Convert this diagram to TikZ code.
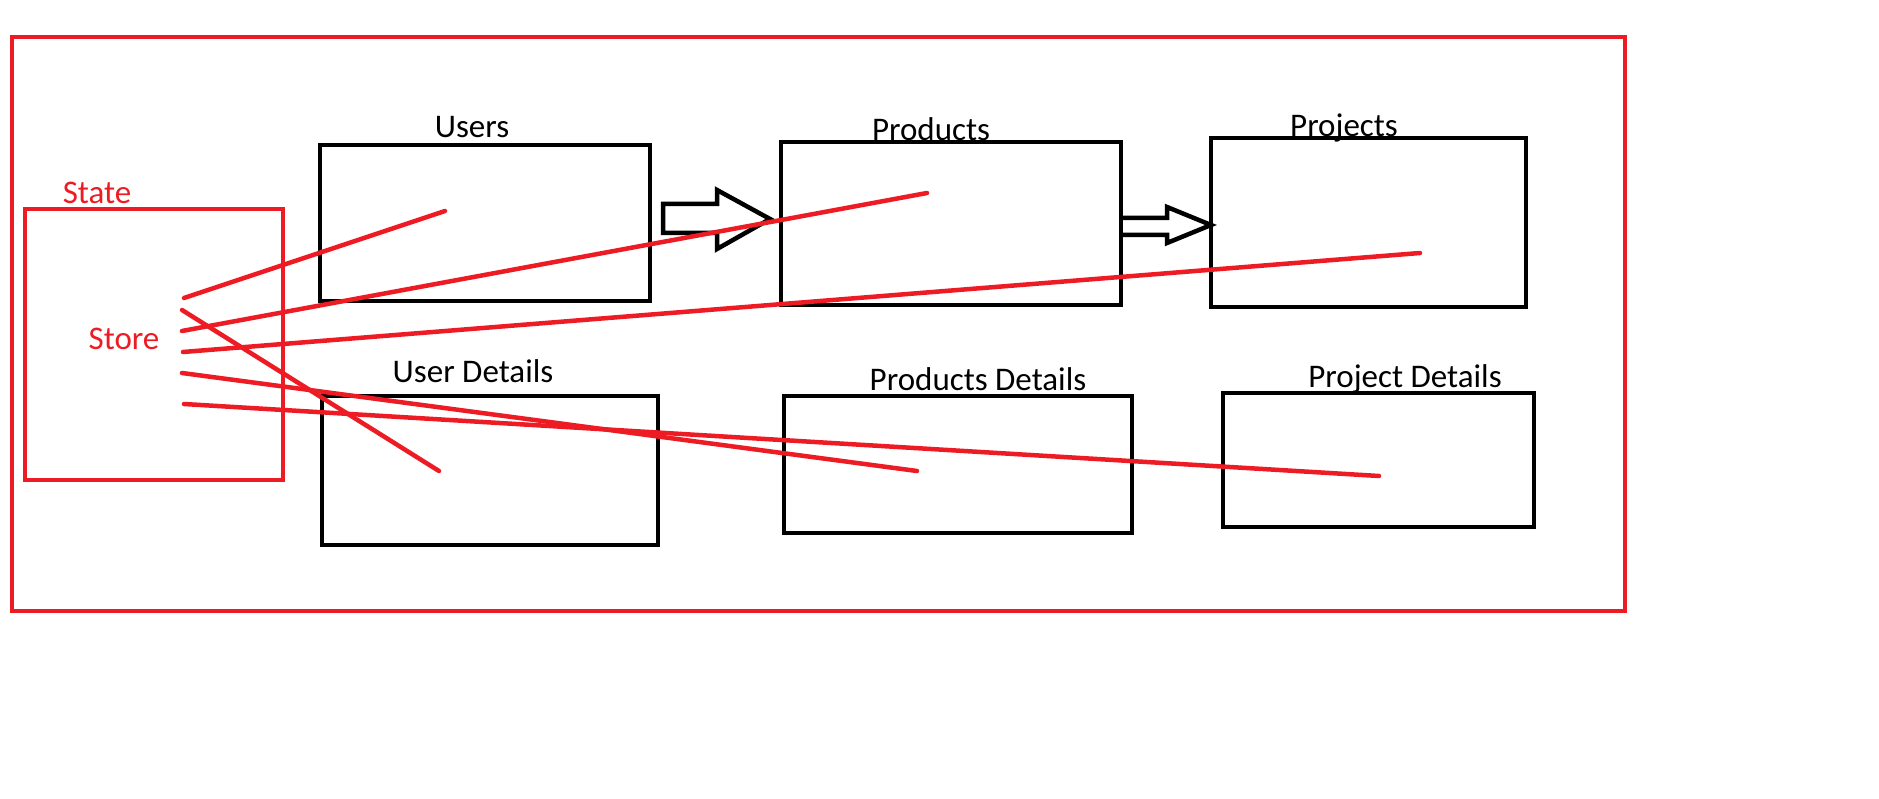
\documentclass[tikz,border=0pt]{standalone}
\usepackage{fontspec}
\setmainfont{Carlito}
\begin{document}
\begin{tikzpicture}[x=1pt,y=-1pt,
  box/.style={draw=black,line width=4.5pt,rectangle,inner sep=0pt,outer sep=0pt},
  redbox/.style={draw=pred,line width=4.5pt,rectangle,inner sep=0pt,outer sep=0pt},
  lbl/.style={anchor=base,inner sep=0pt,font=\fontsize{33}{39}\selectfont},
  redlbl/.style={lbl,text=pred},
  link/.style={draw=pred,line width=4.5pt,line cap=round},
  blockarrow/.style={draw=black,line width=4.5pt,line join=miter}]
\definecolor{pred}{RGB}{237,28,36}
\useasboundingbox[fill=white] (0,0) rectangle (1879,799);
% frames
\node[redbox,minimum width=1613,minimum height=574] (frame) at (818.5,324) {};
\node[redbox,minimum width=258,minimum height=271] (state) at (154,344.5) {};
% boxes
\node[box,minimum width=330,minimum height=156] (users) at (485,223) {};
\node[box,minimum width=340,minimum height=163] (products) at (951,223.5) {};
\node[box,minimum width=315,minimum height=169] (projects) at (1368.5,222.5) {};
\node[box,minimum width=336,minimum height=149] (userdet) at (490,470.5) {};
\node[box,minimum width=348,minimum height=137] (proddet) at (958,464.5) {};
\node[box,minimum width=311,minimum height=134] (projdet) at (1378.5,460) {};
% labels
\node[lbl] (lusers) at (472,138) {Users};
\node[lbl] (lproducts) at (931,141) {Products};
\node[lbl] (lprojects) at (1344,137) {Projects};
\node[lbl] (luserdet) at (473,383) {User Details};
\node[lbl] (lproddet) at (978,390) {Products Details};
\node[lbl] (lprojdet) at (1405,388) {Project Details};
\node[redlbl] (lstate) at (97,204) {State};
\node[redlbl] (lstore) at (124,350) {Store};
% block arrows
\draw[blockarrow] (663,204) -- (717,204) -- (717,190) -- (770,219) -- (717,249) -- (717,233) -- (663,233) -- cycle;
\draw[blockarrow] (products.east |- 0,218) -- (1167,218) -- (1167,207) -- (projects.west |- 0,225) -- (1167,243) -- (1167,235) -- (products.east |- 0,235);
% red connectors
\coordinate (s1) at (184,298); \coordinate (e1) at (445,211);
\coordinate (s2) at (182,310); \coordinate (e2) at (439,471);
\coordinate (s3) at (182,331); \coordinate (e3) at (927,193);
\coordinate (s4) at (183,352); \coordinate (e4) at (1420,253);
\coordinate (s5) at (182,373); \coordinate (e5) at (917,471);
\coordinate (s6) at (184,404); \coordinate (e6) at (1379,476);
\draw[link] (s1) -- (e1);
\draw[link] (s2) -- (e2);
\draw[link] (s3) -- (e3);
\draw[link] (s4) -- (e4);
\draw[link] (s5) -- (e5);
\draw[link] (s6) -- (e6);
\end{tikzpicture}
\end{document}
